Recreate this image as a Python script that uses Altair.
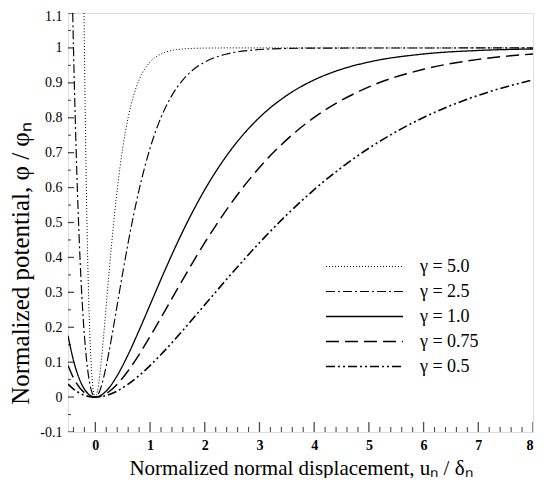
import altair as alt
import pandas as pd

# ---- data ----
gamma_labels = ["γ = 5.0", "γ = 2.5", "γ = 1.0", "γ = 0.75", "γ = 0.5"]

u_g50 = [-0.207, -0.2, -0.18, -0.16, -0.14, -0.12, -0.1, -0.08, -0.06, -0.04, -0.02, 0.0,
         0.04, 0.08, 0.12, 0.16, 0.2, 0.25, 0.3, 0.35, 0.4, 0.5, 0.6, 0.7, 0.8, 0.9, 1.0,
         1.2, 1.4, 1.6, 2.0, 2.5, 8.0]
phi_g50 = [1.1, 1.0, 0.754, 0.555, 0.396, 0.271, 0.176, 0.105, 0.055, 0.023, 0.0053, 0.0,
           0.0175, 0.0616, 0.1219, 0.1912, 0.2642, 0.3554, 0.4422, 0.5221, 0.594, 0.7127,
           0.8009, 0.8641, 0.9084, 0.9389, 0.9596, 0.9826, 0.9927, 0.997, 0.9995, 1.0, 1.0]

u_g25 = [-0.414, -0.4, -0.36, -0.32, -0.28, -0.24, -0.2, -0.16, -0.12, -0.08, -0.04, 0.0,
         0.08, 0.16, 0.24, 0.32, 0.4, 0.5, 0.6, 0.7, 0.8, 1.0, 1.2, 1.4, 1.6, 1.8, 2.0,
         2.4, 2.8, 3.2, 4.0, 8.0]
phi_g25 = [1.1, 1.0, 0.754, 0.555, 0.396, 0.271, 0.176, 0.105, 0.055, 0.023, 0.0053, 0.0,
           0.0175, 0.0616, 0.1219, 0.1912, 0.2642, 0.3554, 0.4422, 0.5221, 0.594, 0.7127,
           0.8009, 0.8641, 0.9084, 0.9389, 0.9596, 0.9826, 0.9927, 0.997, 0.9995, 1.0]

u_g10 = [-0.5, -0.4, -0.3, -0.2, -0.1, 0.0, 0.2, 0.4, 0.6, 0.8, 1.0, 1.25, 1.5, 1.75, 2.0,
         2.5, 3.0, 3.5, 4.0, 4.5, 5.0, 6.0, 7.0, 8.0]
phi_g10 = [0.176, 0.105, 0.055, 0.023, 0.0053, 0.0, 0.0175, 0.0616, 0.1219, 0.1912, 0.2642,
           0.3554, 0.4422, 0.5221, 0.594, 0.7127, 0.8009, 0.8641, 0.9084, 0.9389, 0.9596,
           0.9826, 0.9927, 0.997]

u_g075 = [-0.5, -0.4, -0.2, 0.0, 0.2, 0.4, 0.6, 0.8, 1.0, 1.2, 1.5, 2.0, 2.5, 3.0, 3.5,
          4.0, 5.0, 6.0, 7.0, 8.0]
phi_g075 = [0.0906, 0.055, 0.0125, 0.0, 0.0102, 0.0369, 0.0755, 0.1219, 0.1734, 0.2275,
            0.31, 0.4422, 0.559, 0.6575, 0.7374, 0.8009, 0.8883, 0.9389, 0.9672, 0.9826]

u_g05 = [-0.5, -0.4, -0.3, -0.2, -0.1, 0.0, 0.2, 0.4, 0.6, 0.8, 1.0, 1.2, 1.5, 2.0, 2.5,
         3.0, 3.5, 4.0, 4.5, 5.0, 6.0, 7.0, 7.5, 8.0]
phi_g05 = [0.037, 0.023, 0.0125, 0.0053, 0.0013, 0.0, 0.0047, 0.0175, 0.0369, 0.0616,
           0.0902, 0.1219, 0.1734, 0.2642, 0.3554, 0.4422, 0.5221, 0.594, 0.6575, 0.7127,
           0.8009, 0.8641, 0.8883, 0.9084]

x_major = [0, 1, 2, 3, 4, 5, 6, 7, 8]
x_minor = [-0.4, -0.2, 0.2, 0.4, 0.6, 0.8, 1.2, 1.4, 1.6, 1.8, 2.2, 2.4, 2.6, 2.8,
           3.2, 3.4, 3.6, 3.8, 4.2, 4.4, 4.6, 4.8, 5.2, 5.4, 5.6, 5.8, 6.2, 6.4, 6.6, 6.8,
           7.2, 7.4, 7.6, 7.8]
y_major = [-0.1, 0.0, 0.1, 0.2, 0.3, 0.4, 0.5, 0.6, 0.7, 0.8, 0.9, 1.0, 1.1]
y_minor = [-0.05, 0.05, 0.15, 0.25, 0.35, 0.45, 0.55, 0.65, 0.75, 0.85, 0.95, 1.05]

series_u = [u_g50, u_g25, u_g10, u_g075, u_g05]
series_phi = [phi_g50, phi_g25, phi_g10, phi_g075, phi_g05]

rows = []
for lab, us, ps in zip(gamma_labels, series_u, series_phi):
    for i, (u, p) in enumerate(zip(us, ps)):
        rows.append({"gamma": lab, "u": u, "phi": p, "order": i})
df = pd.DataFrame(rows)

# ---- styling ----
FONT = "Liberation Serif"
dash_range = [[1, 2], [9, 3, 2, 3], [1, 0], [13, 6], [9, 3, 2, 3, 2, 3]]
width_range = [1.0, 1.6, 1.6, 1.6, 1.6]

X_MIN, X_MAX = -0.5, 8
Y_MIN, Y_MAX = -0.1, 1.1
xscale = alt.Scale(domain=[X_MIN, X_MAX], nice=False, zero=False)
yscale = alt.Scale(domain=[Y_MIN, Y_MAX], nice=False, zero=False)

ylabel_expr = "datum.value < 0 ? '-' + format(-datum.value, '~g') : format(datum.value, '~g')"

x_axis = alt.Axis(
    orient="bottom", values=x_major, ticks=False, domain=False, grid=False,
    labelFont=FONT, labelFontSize=14, labelFontWeight="bold", labelColor="black",
    labelPadding=6, labelOverlap=False,
    title="Normalized normal displacement, uₙ / δₙ",
    titleFont=FONT, titleFontSize=21, titleFontWeight="normal", titleColor="black",
    titleBaseline="alphabetic", titleY=42)
y_axis = alt.Axis(
    orient="left", values=y_major, ticks=False, domain=False, grid=False,
    labelExpr=ylabel_expr, labelFont=FONT, labelFontSize=14, labelColor="black",
    labelPadding=6, labelOverlap=False,
    labelOffset={"expr": "datum.value > 1.05 ? 3 : 0"},
    title="Normalized potential, φ / φₙ",
    titleFont=FONT, titleFontSize=25, titleFontWeight="normal", titleColor="black",
    titleBaseline="alphabetic", titleX=-40, titleY=250)

lines = alt.Chart(df).mark_line(clip=True, color="black", interpolate="monotone").encode(
    x=alt.X("u:Q", scale=xscale, axis=x_axis),
    y=alt.Y("phi:Q", scale=yscale, axis=y_axis),
    strokeDash=alt.StrokeDash("gamma:N", scale=alt.Scale(domain=gamma_labels, range=dash_range),
                              legend=alt.Legend(
                                  title=None, orient="none", legendX=257, legendY=241,
                                  symbolType="stroke", symbolSize=5929,
                                  symbolStrokeColor="black", symbolStrokeWidth=1.5,
                                  labelFont=FONT, labelFontSize=18, labelColor="black",
                                  labelOffset=16, clipHeight=25, rowPadding=0, padding=0,
                                  labelLimit=200)),
    strokeWidth=alt.StrokeWidth("gamma:N", scale=alt.Scale(domain=gamma_labels, range=width_range),
                                legend=None),
    order="order:Q",
)

# inward-pointing axis ticks (half of each tick is clipped away at the frame)
xmaj = alt.Chart(pd.DataFrame({"v": x_major})).mark_tick(
    orient="vertical", size=20, thickness=1.3, color="black", clip=True).encode(
    x=alt.X("v:Q", scale=xscale, axis=x_axis),
    y=alt.YDatum(Y_MIN, scale=yscale, axis=y_axis))
xmin = alt.Chart(pd.DataFrame({"v": x_minor})).mark_tick(
    orient="vertical", size=10, thickness=1.1, color="black", clip=True).encode(
    x=alt.X("v:Q", scale=xscale, axis=x_axis),
    y=alt.YDatum(Y_MIN, scale=yscale, axis=y_axis))
ymaj = alt.Chart(pd.DataFrame({"v": y_major})).mark_tick(
    orient="horizontal", size=12, thickness=1.3, color="black", clip=True).encode(
    y=alt.Y("v:Q", scale=yscale, axis=y_axis),
    x=alt.XDatum(X_MIN, scale=xscale, axis=x_axis))
ymin = alt.Chart(pd.DataFrame({"v": y_minor})).mark_tick(
    orient="horizontal", size=6, thickness=1.1, color="black", clip=True).encode(
    y=alt.Y("v:Q", scale=yscale, axis=y_axis),
    x=alt.XDatum(X_MIN, scale=xscale, axis=x_axis))

chart = alt.layer(lines, xmaj, xmin, ymaj, ymin).properties(
    width=465, height=419,
    padding={"left": 60, "top": 5, "right": 5, "bottom": 46},
    autosize=alt.AutoSizeParams(type="none"),
).configure_view(
    stroke="black", strokeWidth=1.6
).configure(background="white")

chart.save("out.html", embed_options={"renderer": "svg", "actions": False})
